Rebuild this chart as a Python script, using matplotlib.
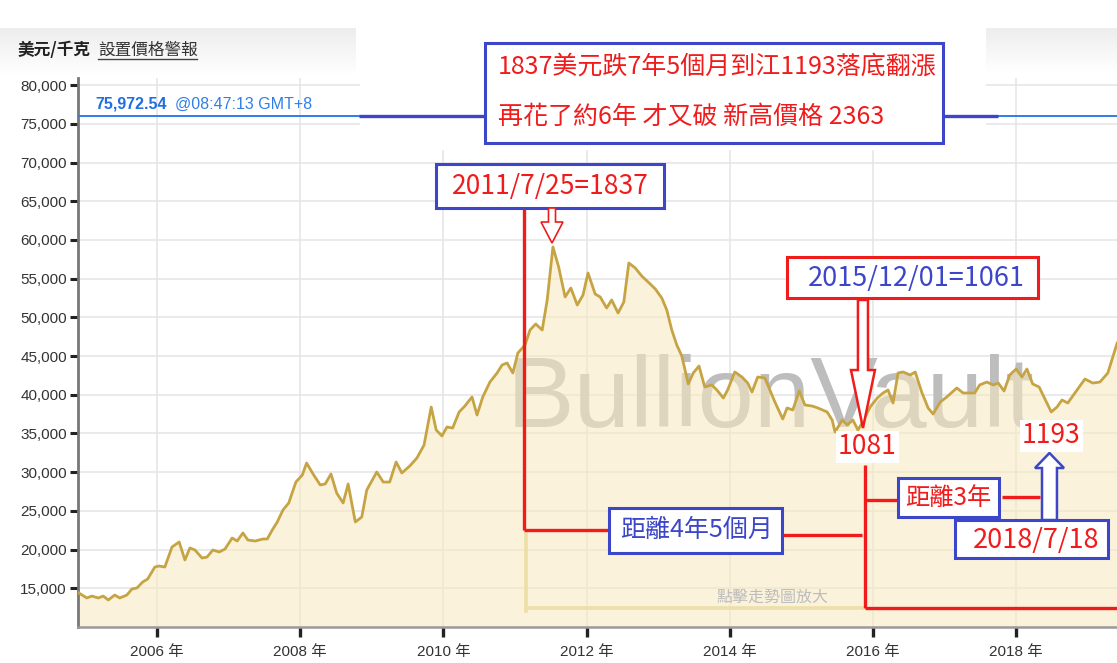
import matplotlib
matplotlib.use("Agg")
import matplotlib.pyplot as plt
import numpy as np
from matplotlib.patches import Rectangle, FancyArrow
from matplotlib.lines import Line2D

CJK = ["Noto Sans CJK TC", "DejaVu Sans"]
LAT = ["Liberation Sans", "Noto Sans CJK TC", "DejaVu Sans"]
plt.rcParams["font.family"] = CJK

# ---------------- data (gold price, USD per kg) ----------------
years = [2004.91, 2005.02, 2005.09, 2005.18, 2005.25, 2005.32, 2005.41, 2005.48, 2005.58, 2005.65,
         2005.72, 2005.80, 2005.87, 2005.97, 2006.03, 2006.11, 2006.21, 2006.31, 2006.39, 2006.46,
         2006.53, 2006.63, 2006.70, 2006.78, 2006.87, 2006.95, 2007.05, 2007.12, 2007.20, 2007.27,
         2007.37, 2007.48, 2007.54, 2007.61, 2007.68, 2007.76, 2007.84, 2007.94, 2008.03, 2008.09,
         2008.18, 2008.28, 2008.35, 2008.43, 2008.51, 2008.60, 2008.67, 2008.77, 2008.86, 2008.93,
         2009.07, 2009.16, 2009.25, 2009.34, 2009.42, 2009.53, 2009.63, 2009.73, 2009.83, 2009.90,
         2009.98, 2010.05, 2010.13, 2010.22, 2010.30, 2010.40, 2010.47, 2010.55, 2010.65, 2010.75,
         2010.82, 2010.89, 2010.97, 2011.04, 2011.14, 2011.21, 2011.29, 2011.38, 2011.45, 2011.53,
         2011.61, 2011.70, 2011.78, 2011.87, 2011.95, 2012.02, 2012.12, 2012.19, 2012.28, 2012.35,
         2012.44, 2012.52, 2012.59, 2012.68, 2012.77, 2012.86, 2012.96, 2013.05, 2013.12, 2013.19,
         2013.26, 2013.33, 2013.42, 2013.49, 2013.57, 2013.65, 2013.75, 2013.82, 2013.91, 2013.97,
         2014.07, 2014.17, 2014.25, 2014.31, 2014.39, 2014.49, 2014.63, 2014.74, 2014.80, 2014.88,
         2014.97, 2015.05, 2015.15, 2015.23, 2015.36, 2015.43, 2015.47, 2015.57, 2015.64, 2015.72,
         2015.79, 2015.87, 2015.96, 2016.06, 2016.14, 2016.21, 2016.28, 2016.35, 2016.42, 2016.52,
         2016.59, 2016.68, 2016.77, 2016.84, 2016.94, 2017.03, 2017.17, 2017.26, 2017.42, 2017.49,
         2017.59, 2017.68, 2017.75, 2017.83, 2017.91, 2018.00, 2018.08, 2018.15, 2018.23, 2018.32,
         2018.49, 2018.57, 2018.64, 2018.72, 2018.85, 2018.96, 2019.07, 2019.17, 2019.28, 2019.35,
         2019.41]
usd_per_kg = [14390, 13750, 14000, 13750, 14000, 13490, 14130, 13750, 14130, 14910,
              15040, 15810, 16200, 17750, 17880, 17750, 20340, 20980, 18660, 20210,
              19950, 18910, 19040, 19950, 19690, 20080, 21500, 21110, 22150, 21240,
              21110, 21370, 21370, 22530, 23570, 25120, 26020, 28730, 29640, 31190,
              29770, 28350, 28480, 29770, 27310, 26020, 28480, 23570, 24210, 27700,
              30030, 28730, 28730, 31320, 29900, 30800, 31830, 33510, 38420, 35450,
              34680, 35840, 35710, 37780, 38550, 39720, 37390, 39720, 41650, 42820,
              43850, 44110, 42820, 45400, 46430, 48370, 49150, 48370, 52250, 59100,
              56510, 52640, 53800, 51600, 52890, 55740, 53020, 52640, 51210, 52250,
              50570, 51990, 57030, 56380, 55350, 54570, 53670, 52510, 50960, 48370,
              46430, 45010, 41400, 42820, 43720, 41010, 41270, 40620, 39590, 40620,
              42950, 42300, 41520, 40360, 42300, 42170, 39070, 36870, 38300, 38040,
              40490, 38680, 38550, 38300, 37780, 36740, 35190, 36740, 36100, 36740,
              35450, 36740, 38420, 39590, 40230, 40620, 38940, 42820, 42950, 42560,
              42950, 40360, 38300, 37520, 39070, 39720, 40880, 40230, 40230, 41270,
              41650, 41270, 41520, 40490, 42560, 43330, 42300, 43330, 41400, 41010,
              37780, 38420, 39330, 38940, 40620, 42040, 41520, 41650, 42820, 44880,
              46690]

y_ticks = [15000, 20000, 25000, 30000, 35000, 40000, 45000, 50000,
           55000, 60000, 65000, 70000, 75000, 80000]
x_ticks = [2006, 2008, 2010, 2012, 2014, 2016, 2018]
x_tick_labels = [f"{y} 年" for y in x_ticks]

unit_label = "美元/千克"
alert_label = "設置價格警報"
latest_price = 75972.54
latest_time = "@08:47:13 GMT+8"
watermark = "BullionVault"
zoom_hint = "點擊走勢圖放大"

note_lines = ["1837美元跌7年5個月到江1193落底翻漲", "再花了約6年 才又破 新高價格 2363"]
peak_label = "2011/7/25=1837"
low1_label = "2015/12/01=1061"
low1_value_label = "1081"
low2_value_label = "1193"
low2_date_label = "2018/7/18"
gap1_label = "距離4年5個月"
gap2_label = "距離3年"

RED = "#f01c1c"
BLUE = "#3c46c8"
GOLD = "#c6a443"
FILL = (0.976, 0.913, 0.745)

# ---------------- figure ----------------
W, H = 1117.0, 663.0
fig = plt.figure(figsize=(11.17, 6.63), dpi=100)

# header gradient bands (screenshot chrome)
bg = fig.add_axes([0, 0, 1, 1], zorder=-1)
g = np.linspace(0.93, 1.0, 64)
img = np.dstack([g, g, g]).reshape(64, 1, 3)
bg.imshow(img, extent=[0, 356, 75, 28], aspect="auto", interpolation="bilinear")
bg.imshow(img, extent=[982, W, 72, 28], aspect="auto", interpolation="bilinear")
bg.set_xlim(0, W)
bg.set_ylim(H, 0)
bg.axis("off")

ax = fig.add_axes([78 / W, (H - 627) / H, (W - 78) / W, (627 - 78) / H])
X0, X1 = 2004.897, 2019.408
Y0, Y1 = 10000, 80930

ax.set_axisbelow(True)
ax.grid(True, color="#e4e4e4", lw=1.1)

ax.text(2010.89, 35840, watermark, fontsize=73, family=["Liberation Sans"],
        color="#bdbdbd", va="baseline", ha="left", zorder=1)

ax.fill_between(years, usd_per_kg, Y0, color=FILL, alpha=0.55, lw=0, zorder=2)
ax.plot(years, usd_per_kg, color=GOLD, lw=2.0, zorder=3, solid_joinstyle="round")

ax.axhline(latest_price, color="#2e7de6", lw=1.4, zorder=2.6)

# white pasted patch over top of chart
ax.add_artist(Rectangle((360 / W, 1 - 150 / H), (986 - 360) / W, 150 / H,
                        transform=fig.transFigure, fc="white", ec="none",
                        zorder=4, clip_on=False))

def seg(xs, ys, color=RED, lw=2.4, z=5):
    ax.plot(xs, ys, color=color, lw=lw, zorder=z, clip_on=False,
            solid_capstyle="butt")

def box(x0, x1, y0, y1, edge, lw=2.2, z=6):
    ax.add_patch(Rectangle((x0, y0), x1 - x0, y1 - y0, fc="white", ec=edge,
                           lw=lw, zorder=z, clip_on=False))

# connectors to note box
seg([2008.82, 2010.58], [latest_price] * 2, color=BLUE, lw=2.4)
seg([2016.98, 2017.75], [latest_price] * 2, color=BLUE, lw=2.4)
box(2010.58, 2016.98, 72530, 85450, BLUE)
ax.text(2010.76, 82350, note_lines[0], color=RED, fontsize=18, va="center",
        ha="left", zorder=7)
ax.text(2010.76, 75890, note_lines[1], color=RED, fontsize=18, va="center",
        ha="left", zorder=7)

# peak annotation
box(2009.90, 2013.08, 64135, 69820, BLUE)
ax.text(2011.49, 66850, peak_label, color=RED, fontsize=19, ha="center",
        va="center", zorder=7)
ax.add_patch(FancyArrow(2011.517, 64135, 0, -4522, width=0.098, head_width=0.307,
                        head_length=2713, length_includes_head=True, fc="white",
                        ec=RED, lw=1.2, zorder=7))

# pale L line
seg([2011.15, 2011.15], [22530, 11810], color="#ecdfa8", lw=2.6, z=2.8)
seg([2011.15, 2015.88], [12455, 12455], color="#ecdfa8", lw=2.6, z=2.8)

# red vertical 1 and gap1 box
seg([2011.13, 2011.13], [64135, 22530])
seg([2011.13, 2012.31], [22530, 22530])
box(2012.31, 2014.73, 19560, 25375, BLUE)
ax.text(2013.53, 22530, gap1_label, color=BLUE, fontsize=18, ha="center",
        va="center", zorder=7)
seg([2014.73, 2015.85], [21886, 21886])

# red vertical 2 and bottom line
seg([2015.89, 2015.89], [30930, 12455])
seg([2015.89, X1 + 0.5], [12455, 12455])

# low 1 annotation
box(2014.80, 2018.30, 52507, 57804, RED)
ax.text(2016.60, 55090, low1_label, color=BLUE, fontsize=19.5, ha="center",
        va="center", zorder=7)
ax.add_patch(FancyArrow(2015.86, 52250, 0, -16540, width=0.14, head_width=0.335,
                        head_length=7490, length_includes_head=True, fc="white",
                        ec=RED, lw=1.8, zorder=7))
ax.text(2015.92, 33256, low1_value_label, color=RED, fontsize=19, ha="center",
        va="center", zorder=8, bbox=dict(fc="white", ec="none", pad=1.5))

# low 2 annotation
ax.text(2018.49, 34680, low2_value_label, color=RED, fontsize=19, ha="center",
        va="center", zorder=8, bbox=dict(fc="white", ec="none", pad=1.5))
ax.add_patch(FancyArrow(2018.465, 23824, 0, 8657, width=0.209, head_width=0.405,
                        head_length=1940, length_includes_head=True, fc="white",
                        ec=BLUE, lw=1.8, zorder=7))
box(2016.35, 2017.76, 24212, 29251, BLUE)
ax.text(2017.05, 26667, gap2_label, color=RED, fontsize=17.5, ha="center",
        va="center", zorder=7)
seg([2015.89, 2016.35], [26408, 26408])
seg([2017.80, 2018.33], [26796, 26796])
box(2017.145, 2019.282, 18915, 23824, BLUE)
ax.text(2018.28, 21240, low2_date_label, color=RED, fontsize=19.5, ha="center",
        va="center", zorder=8)

ax.text(2014.60, 13876, zoom_hint, color="#bcbcbc", fontsize=11.5, ha="center",
        va="center", zorder=3)

# axes styling
ax.set_xlim(X0, X1)
ax.set_ylim(Y0, Y1)
ax.set_xticks(x_ticks)
ax.set_xticklabels(x_tick_labels, family=LAT, fontsize=11, color="#333333")
ax.set_yticks(y_ticks)
ax.set_yticklabels([f"{v:,}" for v in y_ticks], family=LAT, fontsize=11,
                   color="#333333")
ax.tick_params(axis="y", length=6, width=2.2, color="#222222", pad=2)
ax.tick_params(axis="x", length=7, width=2.4, color="#222222", pad=6)
for s in ("top", "right"):
    ax.spines[s].set_visible(False)
ax.spines["left"].set_color("#777777")
ax.spines["left"].set_linewidth(2.0)
ax.spines["bottom"].set_color("#9a9a9a")
ax.spines["bottom"].set_linewidth(1.8)

# header and live price
fig.text(18 / W, 1 - 50 / H, unit_label, fontsize=12, weight="bold",
         color="#222222", va="center")
fig.text(98 / W, 1 - 50 / H, alert_label, fontsize=12, color="#333333",
         va="center")
fig.add_artist(Line2D([98 / W, 197 / W], [1 - 59 / H] * 2, color="#444444", lw=1))
fig.text(95 / W, 1 - 104 / H, f"{latest_price:,.2f}", fontsize=11.5,
         weight="bold", color="#1f6fde", family=LAT, va="center")
fig.text(175 / W, 1 - 104 / H, latest_time, fontsize=11.5, color="#2f7fe6",
         family=LAT, va="center")

fig.savefig("out.png", dpi=100)
